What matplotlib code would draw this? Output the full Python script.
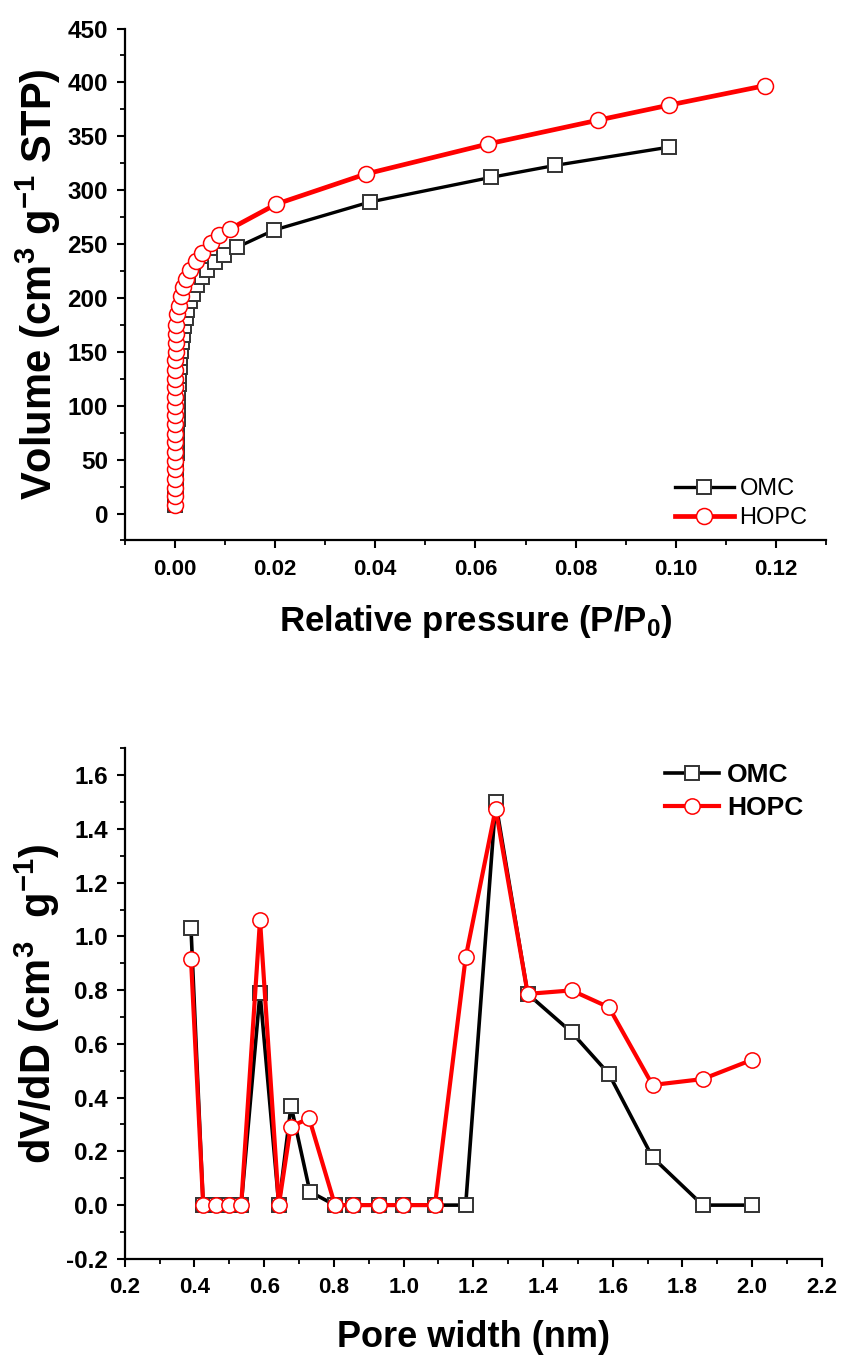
import matplotlib
matplotlib.use("Agg")
import matplotlib.pyplot as plt
from matplotlib.ticker import MultipleLocator

plt.rcParams['font.family'] = ['Liberation Sans', 'DejaVu Sans']
plt.rcParams['mathtext.fontset'] = 'custom'
plt.rcParams['mathtext.rm'] = 'Liberation Sans:bold'
plt.rcParams['mathtext.bf'] = 'Liberation Sans:bold'
plt.rcParams['mathtext.default'] = 'bf'

# isotermas (P/P0, volume)
omc_p = [0.00005, 0.0001, 0.00015, 0.0002, 0.00025, 0.0003, 0.00035, 0.0004, 0.00045,
         0.0005, 0.00055, 0.0006, 0.00066, 0.00072, 0.0008, 0.00088, 0.00097, 0.0011,
         0.0012, 0.0014, 0.0016, 0.0019, 0.0022, 0.0025, 0.0031, 0.0037, 0.0045, 0.0055,
         0.0065, 0.008, 0.0098, 0.0124, 0.0198, 0.0389, 0.0632, 0.0759, 0.0987]
omc_v = [8, 16, 24, 32, 40, 48, 56, 64, 72, 80, 88, 96, 104, 112, 120, 128, 136, 144,
         151, 159, 166, 174, 181, 189, 197, 204, 212, 219, 226, 233, 240, 247, 263, 289,
         312, 323, 340]

hopc_p = [0.0, 0.0, 0.00001, 0.00001, 0.00002, 0.00002, 0.00003, 0.00003, 0.00004,
          0.00004, 0.00005, 0.00006, 0.00007, 0.00008, 0.00009, 0.0001, 0.00011, 0.00013,
          0.00015, 0.00017, 0.0002, 0.0005, 0.0009, 0.0012, 0.0017, 0.0022, 0.0031, 0.0042,
          0.0055, 0.0072, 0.0088, 0.011, 0.0202, 0.0381, 0.0626, 0.0845, 0.0987, 0.1178]
hopc_v = [8, 16, 24, 32, 41, 49, 57, 66, 74, 83, 91, 100, 108, 117, 125, 133, 142, 150,
          158, 167, 175, 185, 193, 202, 210, 218, 226, 234, 242, 251, 258, 264, 287, 315,
          343, 365, 379, 397]

# distribuicao de poros
omc_w = [0.39, 0.425, 0.461, 0.498, 0.534, 0.588, 0.642, 0.677, 0.731, 0.803, 0.855,
         0.928, 0.999, 1.090, 1.178, 1.264, 1.356, 1.482, 1.589, 1.714, 1.858, 2.0]
omc_d = [1.03, 0, 0, 0, 0, 0.79, 0, 0.37, 0.05, 0, 0, 0, 0, 0, 0, 1.50, 0.786, 0.643,
         0.488, 0.178, 0, 0]
hopc_w = [0.39, 0.425, 0.461, 0.498, 0.534, 0.588, 0.642, 0.676, 0.729, 0.803, 0.855,
          0.928, 0.999, 1.090, 1.178, 1.264, 1.356, 1.482, 1.589, 1.714, 1.858, 2.0]
hopc_d = [0.916, 0, 0, 0, 0, 1.061, 0, 0.292, 0.323, 0, 0, 0, 0, 0, 0.922, 1.475, 0.786,
          0.799, 0.736, 0.447, 0.469, 0.541]

fig = plt.figure(figsize=(8.43, 13.58), dpi=100)
ax1 = fig.add_axes([0.148, 0.602, 0.832, 0.377])
ax2 = fig.add_axes([0.148, 0.073, 0.827, 0.376])


def estilo(ax):
    for s in ['top', 'right']:
        ax.spines[s].set_visible(False)
    for s in ['left', 'bottom']:
        ax.spines[s].set_linewidth(1.6)
    ax.tick_params(which='major', direction='out', length=6, width=1.5)
    ax.tick_params(which='minor', direction='out', length=3.5, width=1.3)
    ax.tick_params(axis='y', labelsize=17.5, pad=6)
    ax.tick_params(axis='x', labelsize=16, pad=7)
    for lab in ax.get_xticklabels() + ax.get_yticklabels():
        lab.set_fontweight('bold')


# grafico de cima
ax1.plot(omc_p, omc_v, color='black', lw=2.4, marker='s', ms=10, mfc='white',
         mec='#333333', mew=1.4, label='OMC')
ax1.plot(hopc_p, hopc_v, color='red', lw=3.4, marker='o', ms=11.5, mfc='white',
         mec='red', mew=1.1, label='HOPC')
ax1.set_xlim(-0.01, 0.13)
ax1.set_ylim(-25, 450)
ax1.xaxis.set_minor_locator(MultipleLocator(0.01))
ax1.yaxis.set_major_locator(MultipleLocator(50))
ax1.yaxis.set_minor_locator(MultipleLocator(25))
ax1.set_xticks([0, 0.02, 0.04, 0.06, 0.08, 0.10, 0.12])
ax1.set_xticklabels(['0.00', '0.02', '0.04', '0.06', '0.08', '0.10', '0.12'])
estilo(ax1)
ax1.set_xlabel(r'Relative pressure (P/P$_{0}$)', fontsize=25, fontweight='bold', labelpad=17)
ax1.set_ylabel(r'Volume (cm$^{3}$ g$^{-1}$ STP)', fontsize=30, fontweight='bold', labelpad=3)
ax1.legend(loc='lower right', bbox_to_anchor=(0.958, 0.6101), bbox_transform=fig.transFigure,
           frameon=False, fontsize=17, handlelength=2.5, handletextpad=0.25, labelspacing=0.3,
           borderpad=0, borderaxespad=0)

# grafico de baixo
ax2.plot(omc_w, omc_d, color='black', lw=2.6, marker='s', ms=10, mfc='white',
         mec='#333333', mew=1.4, label='OMC')
ax2.plot(hopc_w, hopc_d, color='red', lw=3.0, marker='o', ms=11, mfc='white',
         mec='red', mew=1.1, label='HOPC')
ax2.set_xlim(0.2, 2.2)
ax2.set_ylim(-0.2, 1.7)
ax2.xaxis.set_major_locator(MultipleLocator(0.2))
ax2.xaxis.set_minor_locator(MultipleLocator(0.1))
ax2.yaxis.set_major_locator(MultipleLocator(0.2))
ax2.yaxis.set_minor_locator(MultipleLocator(0.1))
ax2.xaxis.set_major_formatter(plt.FormatStrFormatter('%.1f'))
ax2.yaxis.set_major_formatter(plt.FormatStrFormatter('%.1f'))
estilo(ax2)
ax2.set_xlabel('Pore width (nm)', fontsize=26, fontweight='bold', labelpad=16)
ax2.set_ylabel(r'dV/dD (cm$^{3}$  g$^{-1}$)', fontsize=30, fontweight='bold', labelpad=3)
leg = ax2.legend(loc='upper right', bbox_to_anchor=(0.9526, 0.4382), bbox_transform=fig.transFigure,
                 frameon=False, fontsize=19, handlelength=2.05, handletextpad=0.3,
                 labelspacing=0.35, borderpad=0, borderaxespad=0)
for t in leg.get_texts():
    t.set_fontweight('bold')

fig.savefig('out.png', dpi=100)
